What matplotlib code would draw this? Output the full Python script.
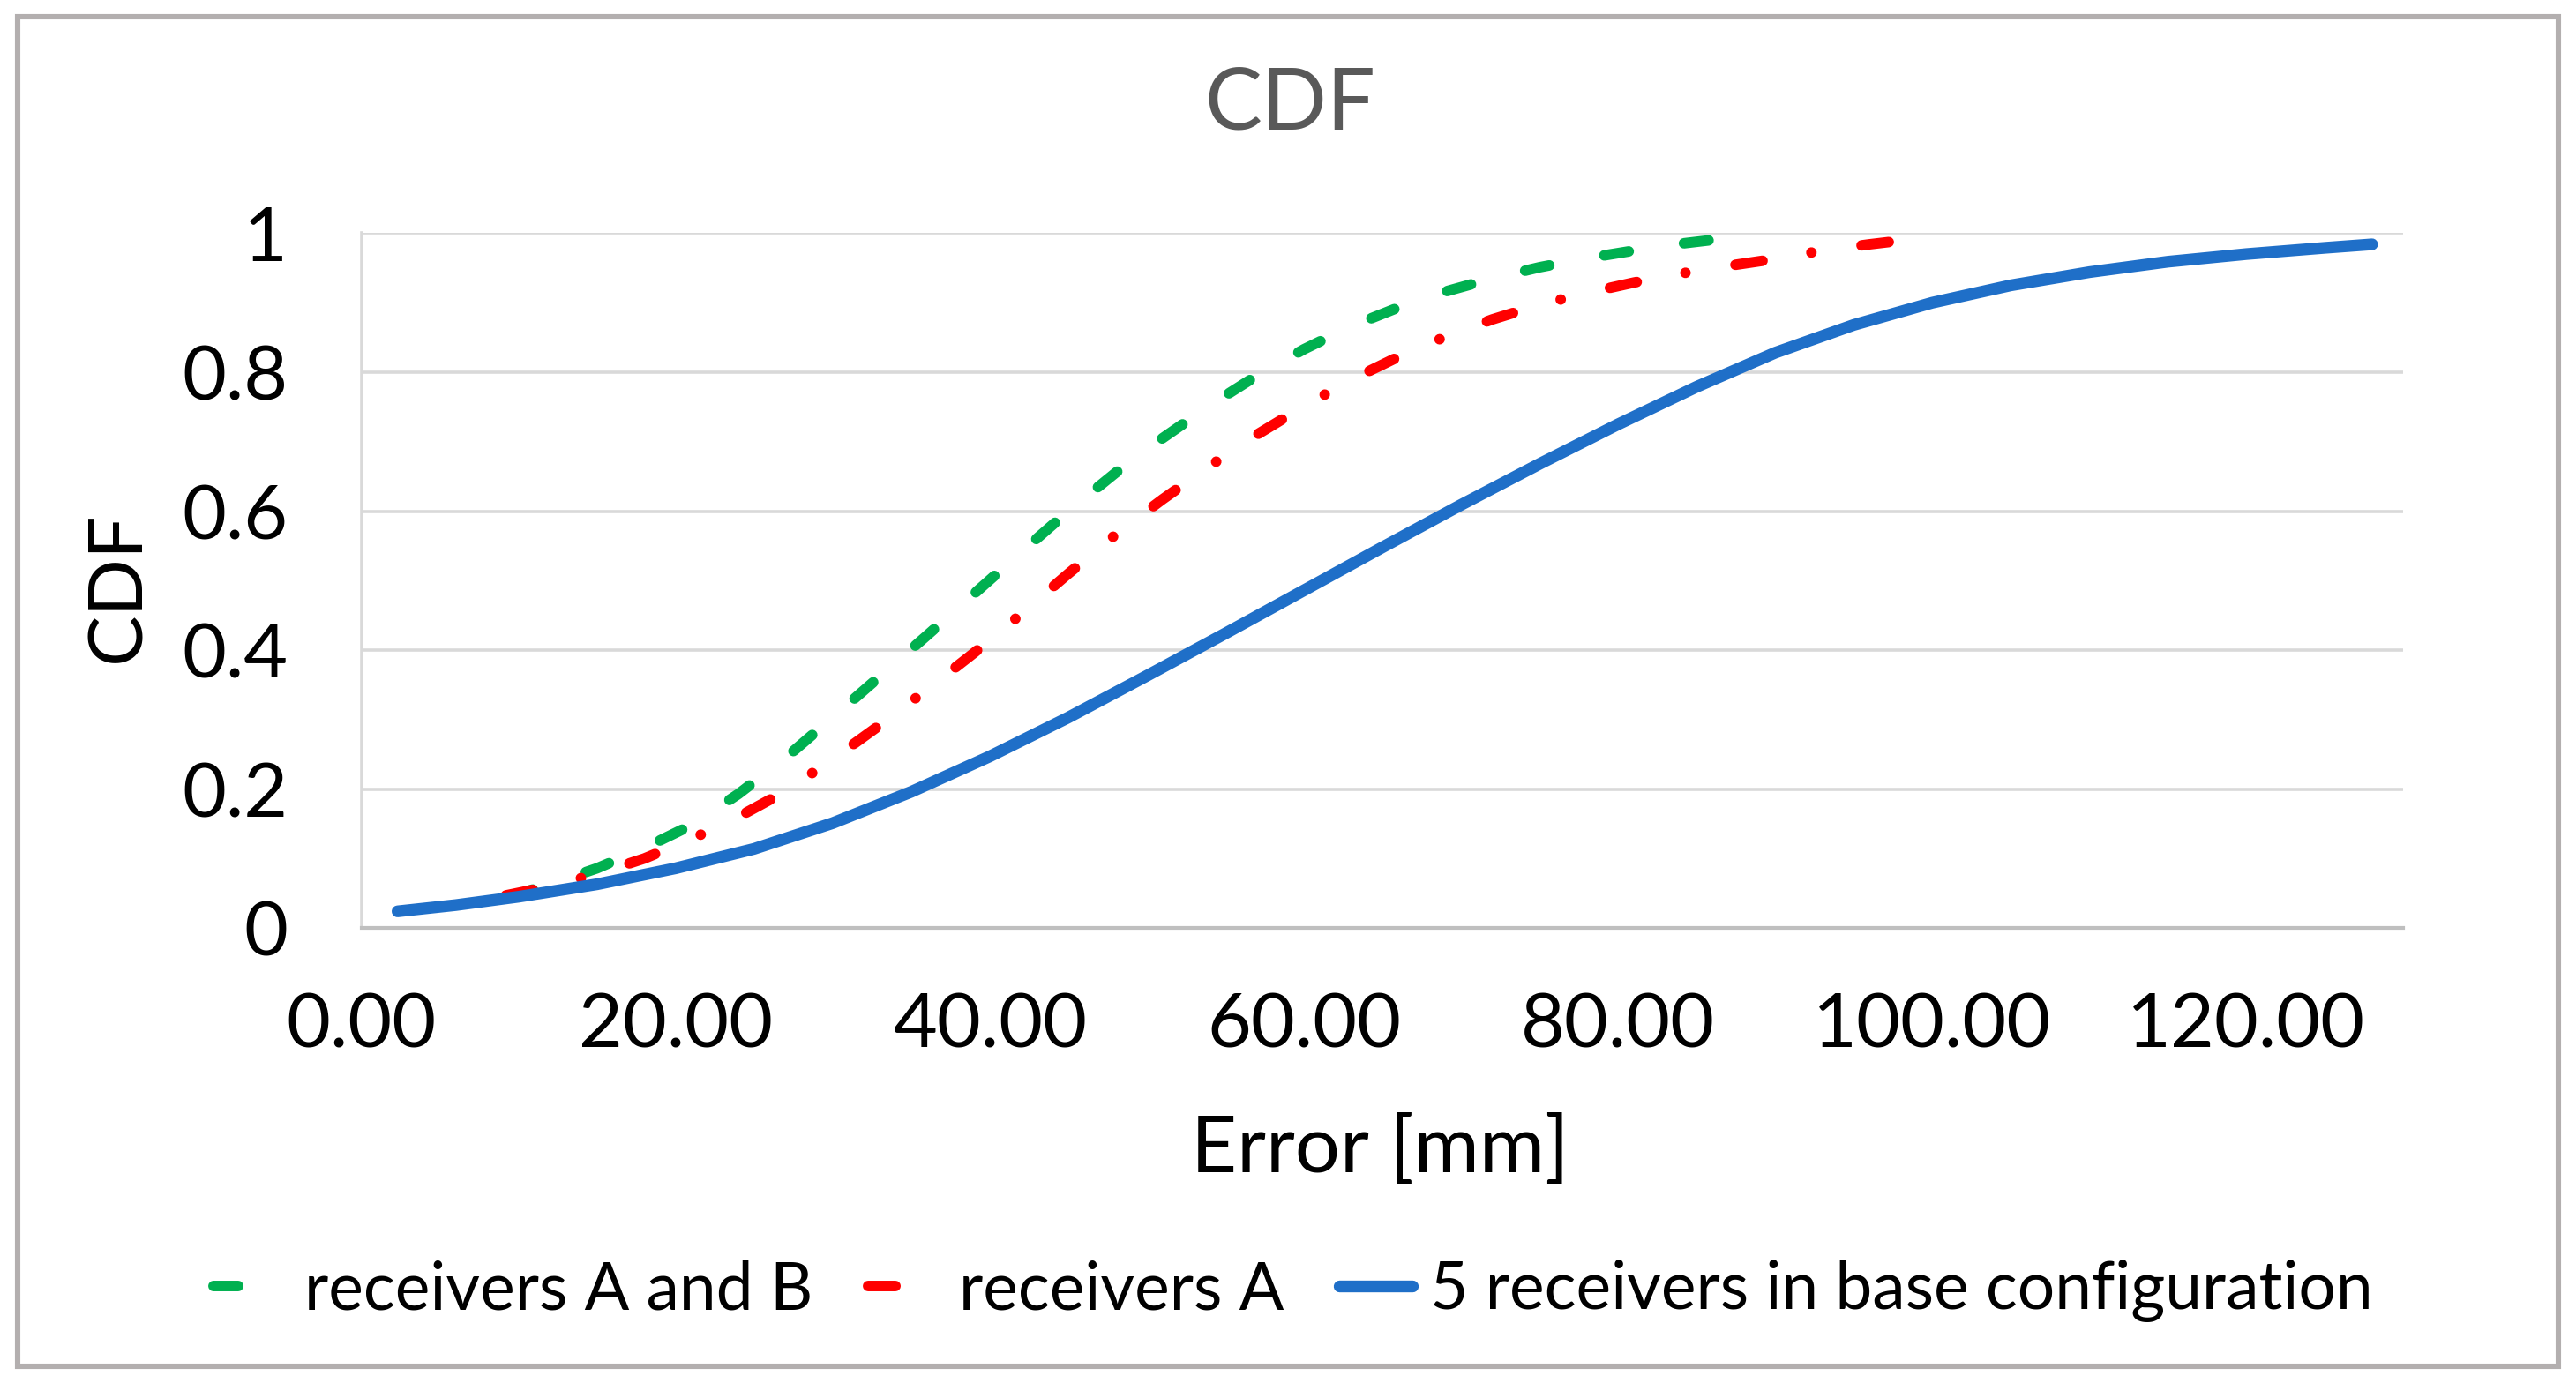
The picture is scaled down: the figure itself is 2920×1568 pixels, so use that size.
import matplotlib
matplotlib.use("Agg")
import matplotlib.pyplot as plt
from matplotlib.patches import Rectangle

plt.rcParams['font.family'] = ['Lato', 'DejaVu Sans']

# Données
labels = ["receivers A and B", "receivers A", "5 receivers in base configuration"]
colors = ["#00B050", "#FF0000", "#1F6FC8"]

x_ab = [9.4, 12, 15, 18, 21, 24, 27, 30, 33, 36, 39, 42, 45, 48, 51, 54, 57, 60,
        63, 66, 69, 72, 75, 78, 81, 84, 87]
y_ab = [0.045, 0.063, 0.086, 0.115, 0.148, 0.193, 0.245, 0.303, 0.362, 0.421,
        0.481, 0.541, 0.600, 0.655, 0.705, 0.752, 0.795, 0.833, 0.866, 0.893,
        0.916, 0.935, 0.951, 0.964, 0.975, 0.985, 0.993]

x_a = [9.2, 12, 15, 18, 21, 24, 27, 30, 33, 36, 39, 42, 45, 48, 51, 54, 57, 60,
       63, 66, 69, 72, 75, 78, 81, 84, 87, 90, 93, 96, 97.5]
y_a = [0.047, 0.060, 0.078, 0.100, 0.128, 0.160, 0.197, 0.243, 0.292, 0.343,
       0.396, 0.452, 0.510, 0.566, 0.617, 0.665, 0.710, 0.751, 0.789, 0.822,
       0.851, 0.876, 0.897, 0.914, 0.929, 0.942, 0.953, 0.963, 0.975, 0.984,
       0.988]

x_base = [2.3, 6, 10, 15, 20, 25, 30, 35, 40, 45, 50, 55, 60, 65, 70, 75, 80, 85,
          90, 95, 100, 105, 110, 115, 120, 125, 128]
y_base = [0.024, 0.033, 0.045, 0.063, 0.086, 0.114, 0.151, 0.196, 0.247, 0.303,
          0.363, 0.424, 0.486, 0.548, 0.609, 0.668, 0.725, 0.779, 0.828, 0.868,
          0.900, 0.925, 0.944, 0.959, 0.970, 0.979, 0.984]

x_ticks = [0, 20, 40, 60, 80, 100, 120]
y_ticks = [0, 0.2, 0.4, 0.6, 0.8, 1]

W, H = 1568, 842  # repère de l'image de référence
fig = plt.figure(figsize=(14.6, 7.84), dpi=200)
ax = fig.add_axes([220 / W, 1 - 565 / H, (1463 - 220) / W, (565 - 142) / H])

ax.plot(x_ab, y_ab, color=colors[0], lw=4.3, dashes=(2.35, 5.3),
        dash_capstyle='round', label=labels[0])
ax.plot(x_a, y_a, color=colors[1], lw=4.3, dashes=(2.6, 4.7, 0.01, 4.8),
        dash_capstyle='round', label=labels[1])
ax.plot(x_base, y_base, color=colors[2], lw=4.8, solid_capstyle='round',
        label=labels[2])

ax.set_xlim(0, 130)
ax.set_ylim(0, 1)
ax.set_xticks(x_ticks)
ax.set_xticklabels([f"{v:.2f}" for v in x_ticks])
ax.set_yticks(y_ticks)
ax.set_yticklabels([f"{v:g}" for v in y_ticks])
ax.tick_params(length=0, labelsize=31, colors='black')
ax.tick_params(axis='x', pad=26)
ax.tick_params(axis='y', pad=30)

ax.grid(axis='y', color='#d9d9d9', lw=1.3)
ax.set_axisbelow(True)
for s in ['top', 'right']:
    ax.spines[s].set_visible(False)
ax.spines['left'].set_color('#d9d9d9')
ax.spines['left'].set_linewidth(1.3)
ax.spines['bottom'].set_color('#bfbfbf')
ax.spines['bottom'].set_linewidth(1.5)

fig.text(785 / W, 1 - 64 / H, "CDF", ha='center', va='center', fontsize=35,
         color='#595959')
fig.text(840 / W, 1 - 700 / H, "Error [mm]", ha='center', va='center', fontsize=32.5)
fig.text(72 / W, 1 - 357 / H, "CDF", ha='center', va='center', rotation=90,
         fontsize=31)

fig.legend(loc='center', bbox_to_anchor=(787 / W, 1 - 786 / H), ncol=3,
           frameon=False, fontsize=27, handlelength=1.1, handletextpad=0.27,
           columnspacing=0.84)

# cadre gris autour du graphique
fig.patches.append(Rectangle((11 / W, 10 / H), 1546 / W, 822 / H,
                             transform=fig.transFigure, fill=False,
                             edgecolor='#b3afaf', lw=2.2))

fig.savefig("out.png", dpi=200, facecolor='white')
